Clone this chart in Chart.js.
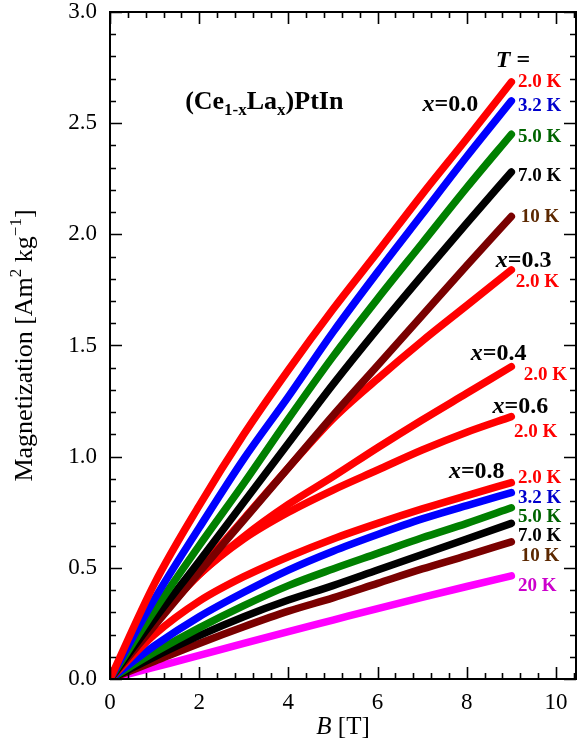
<!DOCTYPE html>
<html>
<head>
<meta charset="utf-8">
<script src="https://cdn.jsdelivr.net/npm/chart.js@4.4.0/dist/chart.umd.min.js"></script>
<style>
html, body { margin: 0; padding: 0; background: #fff; }
</style>
</head>
<body>
<canvas id="magChart" width="577" height="747"></canvas>
<script>
const fieldB = [0, 1, 2, 3, 4, 5, 6, 7, 8, 9];

// magnetization, Am2/kg
const m00_2K  = [0, 0.43, 0.78, 1.10, 1.39, 1.663, 1.92, 2.18, 2.43, 2.685];
const m00_3K2 = [0, 0.36, 0.68, 0.99, 1.27, 1.56, 1.83, 2.09, 2.35, 2.60];
const m00_5K  = [0, 0.31, 0.60, 0.88, 1.17, 1.45, 1.71, 1.96, 2.21, 2.45];
const m00_7K  = [0, 0.27, 0.53, 0.795, 1.06, 1.325, 1.575, 1.815, 2.05, 2.28];
const m00_10K = [0, 0.24, 0.48, 0.715, 0.95, 1.185, 1.41, 1.635, 1.86, 2.08];
const m03_2K  = [0, 0.25, 0.49, 0.72, 0.95, 1.17, 1.35, 1.52, 1.68, 1.84];
const m04_2K  = [0, 0.25, 0.47, 0.64, 0.785, 0.91, 1.04, 1.165, 1.285, 1.405];
const m06_2K  = [0, 0.26, 0.47, 0.63, 0.75, 0.85, 0.94, 1.03, 1.11, 1.18];
const m08_2K  = [0, 0.20, 0.35, 0.46, 0.55, 0.63, 0.70, 0.765, 0.825, 0.883];
const m08_3K2 = [0, 0.15, 0.28, 0.39, 0.49, 0.575, 0.65, 0.72, 0.78, 0.838];
const m08_5K  = [0, 0.12, 0.23, 0.33, 0.42, 0.495, 0.565, 0.635, 0.70, 0.77];
const m08_7K  = [0, 0.10, 0.195, 0.28, 0.355, 0.42, 0.49, 0.56, 0.63, 0.70];
const m08_10K = [0, 0.08, 0.16, 0.235, 0.305, 0.365, 0.43, 0.495, 0.555, 0.617];
const m08_20K = [0, 0.053, 0.106, 0.16, 0.213, 0.265, 0.317, 0.367, 0.416, 0.464];

const xTicks = [0, 2, 4, 6, 8, 10];
const yTicks = [0, 0.5, 1.0, 1.5, 2.0, 2.5, 3.0];

const serif = '"Liberation Serif", "Times New Roman", serif';
const RED = "#ff0000", BLUE = "#0000ff", GREEN = "#008000", DRED = "#7a0000", MAG = "#ff00ff";

const series = [
    { label: "x=0.0 2.0 K", data: m00_2K, color: RED },
    { label: "x=0.0 3.2 K", data: m00_3K2, color: BLUE },
    { label: "x=0.0 5.0 K", data: m00_5K, color: GREEN },
    { label: "x=0.0 7.0 K", data: m00_7K, color: "#000" },
    { label: "x=0.0 10 K", data: m00_10K, color: DRED },
    { label: "x=0.3 2.0 K", data: m03_2K, color: RED },
    { label: "x=0.4 2.0 K", data: m04_2K, color: RED },
    { label: "x=0.6 2.0 K", data: m06_2K, color: RED },
    { label: "x=0.8 2.0 K", data: m08_2K, color: RED },
    { label: "x=0.8 3.2 K", data: m08_3K2, color: BLUE },
    { label: "x=0.8 5.0 K", data: m08_5K, color: GREEN },
    { label: "x=0.8 7.0 K", data: m08_7K, color: "#000" },
    { label: "x=0.8 10 K", data: m08_10K, color: DRED },
    { label: "x=0.8 20 K", data: m08_20K, color: MAG }
];

// text placed in data units (B, M) at left/baseline
const tLab = c => "bold 19px " + serif;
const annotations = [
    { b: 8.65, m: 2.752, runs: [["T", "italic bold 24px", "#000"], [" =", "bold 24px", "#000"]] },
    { b: 9.15, m: 2.662, runs: [["2.0 K", "bold 19px", "#ff0000"]] },
    { b: 9.15, m: 2.554, runs: [["3.2 K", "bold 19px", "#0000cc"]] },
    { b: 9.15, m: 2.414, runs: [["5.0 K", "bold 19px", "#006400"]] },
    { b: 9.15, m: 2.239, runs: [["7.0 K", "bold 19px", "#000"]] },
    { b: 9.21, m: 2.054, runs: [["10 K", "bold 19px", "#5c2800"]] },
    { b: 7.01, m: 2.554, runs: [["x", "italic bold 24px", "#000"], ["=0.0", "bold 24px", "#000"]] },
    { b: 8.65, m: 1.851, runs: [["x", "italic bold 24px", "#000"], ["=0.3", "bold 24px", "#000"]] },
    { b: 9.10, m: 1.761, runs: [["2.0 K", "bold 19px", "#ff0000"]] },
    { b: 8.09, m: 1.437, runs: [["x", "italic bold 24px", "#000"], ["=0.4", "bold 24px", "#000"]] },
    { b: 9.28, m: 1.347, runs: [["2.0 K", "bold 19px", "#ff0000"]] },
    { b: 8.58, m: 1.198, runs: [["x", "italic bold 24px", "#000"], ["=0.6", "bold 24px", "#000"]] },
    { b: 9.06, m: 1.090, runs: [["2.0 K", "bold 19px", "#ff0000"]] },
    { b: 7.60, m: 0.905, runs: [["x", "italic bold 24px", "#000"], ["=0.8", "bold 24px", "#000"]] },
    { b: 9.15, m: 0.883, runs: [["2.0 K", "bold 19px", "#ff0000"]] },
    { b: 9.15, m: 0.793, runs: [["3.2 K", "bold 19px", "#0000cc"]] },
    { b: 9.15, m: 0.707, runs: [["5.0 K", "bold 19px", "#006400"]] },
    { b: 9.15, m: 0.622, runs: [["7.0 K", "bold 19px", "#000"]] },
    { b: 9.21, m: 0.532, runs: [["10 K", "bold 19px", "#5c2800"]] },
    { b: 9.15, m: 0.396, runs: [["20 K", "bold 19px", "#cc00cc"]] },
    { b: 1.685, m: 2.563, runs: [["(Ce", "bold 26px", "#000"], ["1-x", "bold 17px", "#000", 6],
        ["La", "bold 26px", "#000"], ["x", "bold 17px", "#000", 6], [")PtIn", "bold 26px", "#000"]] }
];

function drawRuns(ctx, x, y, runs) {
    runs.forEach(r => {
        ctx.font = r[1] + " " + serif;
        ctx.fillStyle = r[2];
        ctx.fillText(r[0], x, y + (r[3] || 0));
        x += ctx.measureText(r[0]).width;
    });
}

function runsWidth(ctx, runs) {
    let w = 0;
    runs.forEach(r => { ctx.font = r[1] + " " + serif; w += ctx.measureText(r[0]).width; });
    return w;
}

const framePlugin = {
    id: "frame",
    afterDatasetsDraw(chart) {
        const ctx = chart.ctx;
        const a = chart.chartArea;
        const xs = chart.scales.x, ys = chart.scales.y;
        ctx.save();
        ctx.strokeStyle = "#000";
        ctx.lineWidth = 2;
        ctx.strokeRect(a.left, a.top, a.right - a.left, a.bottom - a.top);

        ctx.lineWidth = 1.6;
        ctx.beginPath();
        // x ticks, bottom and top, pointing inward
        for (let v = 0; v <= xs.max + 1e-6; v += 0.4) {
            const px = Math.round(xs.getPixelForValue(v)) + 0.5;
            const major = xTicks.some(t => Math.abs(t - v) < 1e-6);
            const len = major ? 12 : 6;
            ctx.moveTo(px, a.bottom); ctx.lineTo(px, a.bottom - len);
            ctx.moveTo(px, a.top); ctx.lineTo(px, a.top + len);
        }
        for (let v = 0; v <= ys.max + 1e-6; v += 0.1) {
            const py = Math.round(ys.getPixelForValue(v)) + 0.5;
            const major = yTicks.some(t => Math.abs(t - v) < 1e-6);
            const len = major ? 12 : 6;
            ctx.moveTo(a.left, py); ctx.lineTo(a.left + len, py);
            ctx.moveTo(a.right, py); ctx.lineTo(a.right - len, py);
        }
        ctx.stroke();

        // annotations
        ctx.textBaseline = "alphabetic";
        ctx.textAlign = "left";
        annotations.forEach(t => {
            drawRuns(ctx, xs.getPixelForValue(t.b), ys.getPixelForValue(t.m), t.runs);
        });

        // axis titles
        const xTitle = [["B", "italic 25px", "#000"], [" [T]", "25px", "#000"]];
        const cx = (a.left + a.right) / 2;
        drawRuns(ctx, cx - runsWidth(ctx, xTitle) / 2, 734, xTitle);

        const yTitle = [["Magnetization [Am", "26px", "#000"], ["2", "17px", "#000", -11],
            [" kg", "26px", "#000"], ["\u22121", "17px", "#000", -11], ["]", "26px", "#000"]];
        const cy = (a.top + a.bottom) / 2;
        ctx.translate(32, cy);
        ctx.rotate(-Math.PI / 2);
        drawRuns(ctx, -runsWidth(ctx, yTitle) / 2, 0, yTitle);
        ctx.restore();
    }
};

const datasets = series.map(s => ({
    label: s.label,
    data: fieldB.map((b, i) => ({ x: b, y: s.data[i] })),
    borderColor: s.color,
    borderWidth: 7.5,
    borderCapStyle: "round",
    borderJoinStyle: "round",
    pointRadius: 0,
    fill: false,
    cubicInterpolationMode: "monotone"
}));

new Chart(document.getElementById("magChart").getContext("2d"), {
    type: "line",
    data: { datasets: datasets },
    options: {
        responsive: false,
        animation: false,
        layout: { padding: { top: 12, right: 1, left: 0, bottom: 0 } },
        plugins: { legend: { display: false }, tooltip: { enabled: false } },
        scales: {
            x: {
                type: "linear",
                min: 0,
                max: 10.45,
                grid: { display: false, drawTicks: false },
                border: { display: false },
                afterBuildTicks: scale => { scale.ticks = xTicks.map(v => ({ value: v })); },
                afterFit: scale => { scale.height = 68; scale.paddingLeft = 0; scale.paddingRight = 0; },
                ticks: {
                    color: "#000",
                    padding: 12,
                    maxRotation: 0,
                    font: { family: serif, size: 23, lineHeight: 1 },
                    callback: v => String(v)
                }
            },
            y: {
                type: "linear",
                min: 0,
                max: 3,
                grid: { display: false, drawTicks: false },
                border: { display: false },
                afterBuildTicks: scale => { scale.ticks = yTicks.map(v => ({ value: v })); },
                afterFit: scale => { scale.width = 110; scale.paddingTop = 0; scale.paddingBottom = 0; },
                ticks: {
                    color: "#000",
                    padding: 13,
                    font: { family: serif, size: 23, lineHeight: 1 },
                    callback: v => Number(v).toFixed(1)
                }
            }
        }
    },
    plugins: [framePlugin]
});
</script>
</body>
</html>
